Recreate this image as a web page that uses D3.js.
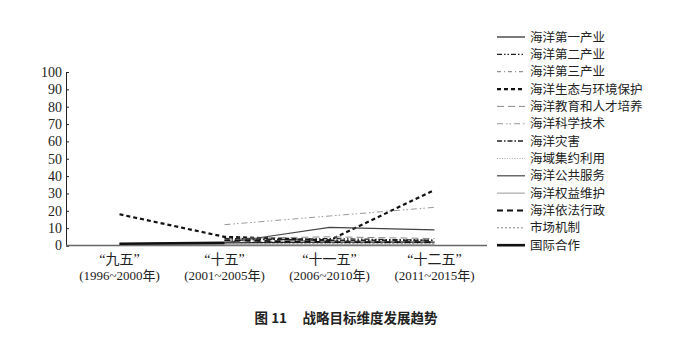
<!DOCTYPE html>
<html><head><meta charset="utf-8">
<script src="https://cdn.jsdelivr.net/npm/d3@7/dist/d3.min.js"></script>
<style>body{margin:0;background:#fff}</style>
</head><body><svg id="c" width="690" height="349"></svg>
<script>
const categories = ["“九五”","“十五”","“十一五”","“十二五”"];
const periods = ["(1996~2000年)","(2001~2005年)","(2006~2010年)","(2011~2015年)"];
const yTicks = [0,10,20,30,40,50,60,70,80,90,100];
const seriesNames = ["海洋第一产业","海洋第二产业","海洋第三产业","海洋生态与环境保护","海洋教育和人才培养","海洋科学技术","海洋灾害","海域集约利用","海洋公共服务","海洋权益维护","海洋依法行政","市场机制","国际合作"];
const s1  = [1, 1.5, 2, 2];
const s2  = [null, 3, 4, 3];
const s3  = [null, 2, 3, 2];
const s4  = [18, 5, 3, 32];
const s5  = [null, 4, 5, 4];
const s6  = [null, 12, 17, 22];
const s7  = [null, 4, 3, 3];
const s8  = [null, 1, 1, 1];
const s9  = [null, 1.5, 10.5, 9];
const s10 = [0.5, 0.5, 0.5, 0.5];
const s11 = [null, 3, 2, 2];
const s12 = [null, 1, 1, 1];
const s13 = [1, 1.5, null, null];
const seriesValues = [s1,s2,s3,s4,s5,s6,s7,s8,s9,s10,s11,s12,s13];
const styles = [
  {c:"#222", w:1.2, d:null},
  {c:"#222", w:1.2, d:"5,2,1.5,2,1.5,2"},
  {c:"#777", w:1, d:"4,3,1,3"},
  {c:"#111", w:2.2, d:"4,3"},
  {c:"#888", w:1, d:"7,4"},
  {c:"#999", w:1, d:"6,3,1.5,2,1.5,3"},
  {c:"#222", w:1.5, d:"5,2,1.5,2"},
  {c:"#aaa", w:1, d:"1,1.5"},
  {c:"#444", w:1.2, d:null},
  {c:"#aaa", w:1.2, d:null},
  {c:"#111", w:1.8, d:"6,4"},
  {c:"#888", w:1, d:"2,2"},
  {c:"#111", w:2.6, d:null}
];
const serif = "'Liberation Serif','Times New Roman',serif";
const svg = d3.select("#c");
const x = d3.scaleBand().domain(categories).range([67,487]);
const y = d3.scaleLinear().domain([0,100]).range([245.5,72]);
const cx = d => x(d) + x.bandwidth()/2;

// y axis
const ya = svg.append("g").attr("transform","translate(66,0)")
  .call(d3.axisRight(y).tickValues(yTicks).tickSize(3).tickFormat(d3.format("d")));
ya.attr("font-family",null).attr("font-size",null);
ya.select(".domain").attr("stroke","#222");
ya.selectAll(".tick line").attr("stroke","#222");
ya.selectAll("text").attr("x",-4).attr("text-anchor","end")
  .style("font-family",serif).style("font-size","14px").attr("fill","#222");

// x axis
const xa = svg.append("g").attr("transform","translate(0,245.5)")
  .call(d3.axisBottom(x).tickSize(0).tickFormat(""));
xa.select(".domain").attr("stroke","#666").attr("stroke-width",1.5).attr("d","M66,0H487");
const lbl = svg.append("g");
categories.forEach((c,i)=>{
  lbl.append("text").attr("x",cx(c)).attr("y",264).attr("text-anchor","middle")
    .style("font-family",serif+",'Noto Sans CJK SC'").style("font-size","14px").attr("fill","#222").text(c);
  lbl.append("text").attr("x",cx(c)).attr("y",280).attr("text-anchor","middle")
    .style("font-family",serif+",'Noto Sans CJK SC'").style("font-size","13px").attr("fill","#222").text(periods[i]);
});

// lines
const line = d3.line().defined(d=>d.v!==null).x(d=>cx(d.c)).y(d=>y(d.v));
seriesValues.forEach((vals,i)=>{
  const st = styles[i];
  svg.append("path").datum(vals.map((v,j)=>({c:categories[j],v})))
    .attr("d",line).attr("fill","none").attr("stroke",st.c).attr("stroke-width",st.w)
    .attr("stroke-dasharray",st.d);
});

// legend
const lg = svg.append("g");
seriesNames.forEach((n,i)=>{
  const st = styles[i];
  const yy = 37 + i*17.35;
  lg.append("line").attr("x1",497).attr("x2",525).attr("y1",yy).attr("y2",yy)
    .attr("stroke",st.c).attr("stroke-width",st.w).attr("stroke-dasharray",st.d);
  lg.append("text").attr("x",530).attr("y",yy+4.5).style("font-family","'Noto Sans CJK SC'")
    .style("font-size","12.5px").attr("fill","#222").text(n);
});

// caption
svg.append("text").attr("x",346).attr("y",323).attr("text-anchor","middle")
  .style("font-family","'Noto Sans CJK SC'").style("font-weight","bold").style("font-size","13.5px")
  .attr("fill","#222").style("white-space","pre").text("图 11     战略目标维度发展趋势");
</script></body></html>
